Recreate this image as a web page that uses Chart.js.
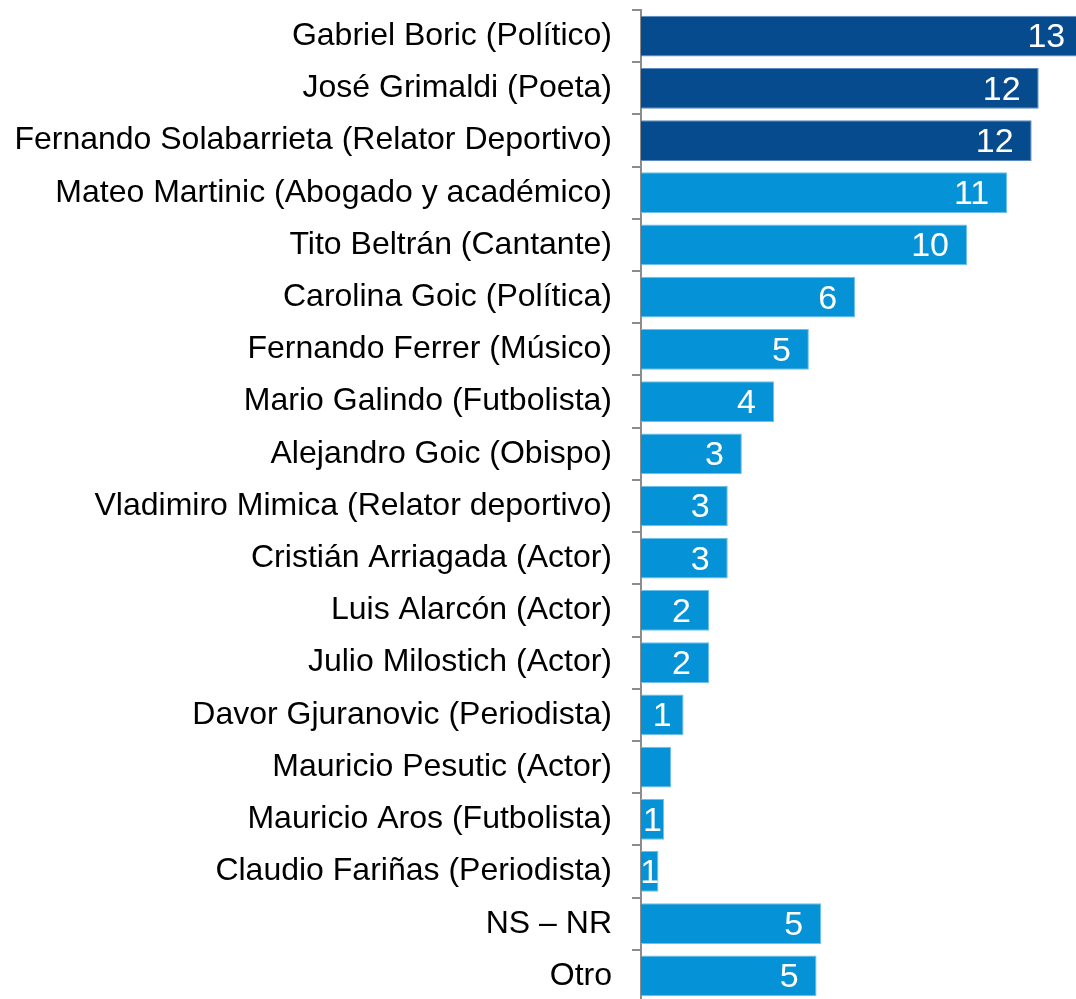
<!DOCTYPE html>
<html>
<head>
<meta charset="utf-8">
<script src="https://cdn.jsdelivr.net/npm/chart.js@4/dist/chart.umd.min.js"></script>
<style>
  html, body { margin: 0; padding: 0; background: #fff; overflow: hidden; }
  #wrap { width: 1076px; height: 999px; overflow: hidden; }
</style>
</head>
<body>
<div id="wrap"><canvas id="chart" width="1100" height="1002"></canvas></div>
<script>
const names = [
  'Gabriel Boric (Político)',
  'José Grimaldi (Poeta)',
  'Fernando Solabarrieta (Relator Deportivo)',
  'Mateo Martinic (Abogado y académico)',
  'Tito Beltrán (Cantante)',
  'Carolina Goic (Política)',
  'Fernando Ferrer (Músico)',
  'Mario Galindo (Futbolista)',
  'Alejandro Goic (Obispo)',
  'Vladimiro Mimica (Relator deportivo)',
  'Cristián Arriagada (Actor)',
  'Luis Alarcón (Actor)',
  'Julio Milostich (Actor)',
  'Davor Gjuranovic (Periodista)',
  'Mauricio Pesutic (Actor)',
  'Mauricio Aros (Futbolista)',
  'Claudio Fariñas (Periodista)',
  'NS – NR',
  'Otro'
];
const values = [13.2, 11.87, 11.66, 10.93, 9.73, 6.39, 5.01, 3.97, 3.01, 2.59, 2.59, 2.03, 2.03, 1.27, 0.9, 0.69, 0.52, 5.38, 5.24];
const valueLabels = ['13', '12', '12', '11', '10', '6', '5', '4', '3', '3', '3', '2', '2', '1', '', '1', '1', '5', '5'];
const topCount = 3;

const DARK = '#074b8f';
const LIGHT = '#0592d6';
const fontFamily = "'Liberation Sans', Arial, sans-serif";

const barLabels = {
  id: 'barLabels',
  afterDatasetsDraw(chart) {
    const ctx = chart.ctx;
    const area = chart.chartArea;
    const meta = chart.getDatasetMeta(0);
    ctx.save();
    ctx.beginPath();
    ctx.rect(area.left, area.top, area.right - area.left, area.bottom - area.top);
    ctx.clip();
    ctx.font = '34px ' + fontFamily;
    ctx.fillStyle = '#fff';
    ctx.textBaseline = 'middle';
    meta.data.forEach((bar, i) => {
      const txt = valueLabels[i];
      if (!txt) return;
      const w = bar.x - bar.base;
      const tw = ctx.measureText(txt).width;
      if (w > tw + 30) {
        ctx.textAlign = 'right';
        ctx.fillText(txt, bar.x - 18, bar.y + 2);
      } else {
        ctx.textAlign = 'center';
        ctx.fillText(txt, bar.base + w / 2, bar.y + 2);
      }
    });
    ctx.restore();
  }
};

new Chart(document.getElementById('chart').getContext('2d'), {
  type: 'bar',
  data: {
    labels: names,
    datasets: [{
      data: values,
      backgroundColor: values.map((v, i) => i < topCount ? DARK : LIGHT),
      borderColor: values.map((v, i) => i < topCount ? '#5b8cc0' : '#6fc0ec'),
      borderWidth: 1,
      borderSkipped: 'start',
      categoryPercentage: 1,
      barPercentage: 0.78
    }]
  },
  options: {
    indexAxis: 'y',
    responsive: false,
    animation: false,
    devicePixelRatio: 1,
    layout: { padding: { top: 10, right: 0, bottom: 0, left: 0 } },
    plugins: {
      legend: { display: false },
      tooltip: { enabled: false }
    },
    scales: {
      x: {
        display: false,
        min: 0,
        max: 13.7
      },
      y: {
        afterFit(scale) {
          scale.width = 641;
          scale.paddingTop = 0;
          scale.paddingBottom = 0;
        },
        grid: {
          offset: true,
          drawOnChartArea: false,
          drawTicks: true,
          tickLength: 9,
          color: '#8c8c8c',
          lineWidth: 2
        },
        border: { display: true, color: '#8c8c8c', width: 2 },
        ticks: {
          color: '#000',
          padding: 20,
          font: { family: fontFamily, size: 32 }
        }
      }
    }
  },
  plugins: [barLabels]
});
</script>
</body>
</html>
